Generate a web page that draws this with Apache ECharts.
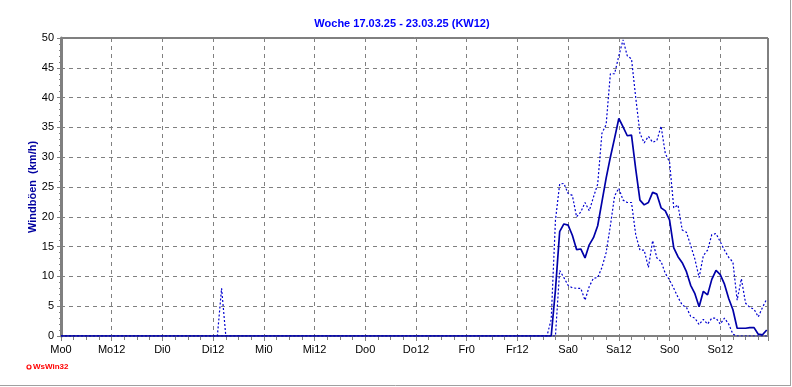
<!DOCTYPE html>
<html>
<head>
<meta charset="utf-8">
<script src="https://cdn.jsdelivr.net/npm/echarts@6/dist/echarts.min.js"></script>
<style>
  html, body { margin: 0; padding: 0; background: #fff; }
  #chart { width: 792px; height: 387px; }
</style>
</head>
<body>
<div id="chart"></div>
<script>
// Stunden seit Mo 0:00
var hours = [0, 37, 38, 39,
  115, 116, 117, 118, 119, 120, 121, 122, 123, 124, 125, 126, 127, 128, 129,
  130, 131, 132, 133, 134, 135, 136, 137, 138, 139, 140, 141, 142, 143, 144,
  145, 146, 147, 148, 149, 150, 151, 152, 153, 154, 155, 156, 157, 158, 159,
  160, 161, 162, 163, 164, 165, 166, 167];

// Windböen Mittel / Max / Min (km/h)
var boenMittel = [0, 0, 0, 0,
  0, 0, 7.7, 17.5, 18.8, 18.6, 16.9, 14.5, 14.6, 13.1, 15.3, 16.5, 18.5, 22.5, 26.5,
  30, 33.2, 36.5, 35.1, 33.6, 33.7, 28, 22.8, 22.0, 22.4, 24.1, 23.8, 21.5, 21.0, 19.5,
  14.8, 13.3, 12.3, 10.8, 8.5, 7.1, 4.9, 7.5, 6.9, 9.5, 11.0, 10.3, 8.7, 6.3, 4.4,
  1.3, 1.3, 1.3, 1.4, 1.4, 0.3, 0.2, 1.0];
var boenMax = [0, 0, 8, 0,
  0, 2.8, 19.4, 25.5, 25.6, 23.9, 23.6, 20.0, 20.8, 22.4, 21.0, 23.3, 25.5, 34, 35.5,
  44.0, 44.0, 47, 49.7, 47, 46.5, 40, 34, 32.4, 33.5, 32.5, 32.8, 35.2, 30.6, 29.2,
  21.5, 22.0, 17.8, 17.4, 15.2, 12.9, 9.8, 13.5, 14.4, 17.0, 17.2, 15.8, 14.4, 13.2, 12.4,
  6.0, 9.6, 5.5, 4.8, 4.5, 3.2, 4.8, 6.2];
var boenMin = [0, 0, 0, 0,
  0, 0, 0, 11, 9.8, 8.5, 8.1, 8.0, 8.0, 6.0, 8.3, 9.7, 9.8, 11.5, 14,
  18.5, 23.5, 24.8, 22.8, 22.4, 22.4, 17, 14.4, 14.4, 11.5, 16, 13.1, 12.5, 10.5, 9.4,
  8.0, 6.5, 5.2, 4.8, 3.3, 3.0, 1.9, 2.8, 2.0, 3.0, 3.0, 2.0, 3.0, 2.0, 0.3,
  0, 0, 0, 0, 0, 0, 0, 0];

var xLabels = ['Mo0', 'Mo12', 'Di0', 'Di12', 'Mi0', 'Mi12', 'Do0', 'Do12',
  'Fr0', 'Fr12', 'Sa0', 'Sa12', 'So0', 'So12'];

function pairs(vals) {
  return hours.map(function (h, i) { return [h, vals[i]]; });
}

var chart = echarts.init(document.getElementById('chart'));

var dotted = { color: '#0000d0', width: 1.2, type: [2, 2] };

var option = {
  animation: false,
  backgroundColor: '#ffffff',
  title: {
    text: 'Woche 17.03.25 - 23.03.25 (KW12)',
    left: 397,
    textAlign: 'center',
    top: 13,
    textStyle: { color: '#0000ff', fontSize: 11, fontWeight: 'bold', fontFamily: 'Liberation Sans' }
  },
  grid: {
    left: 61, top: 38, right: 24, bottom: 51,
    show: true, borderColor: '#000', borderWidth: 1
  },
  xAxis: {
    type: 'value',
    min: 0, max: 167.3, interval: 12,
    axisLine: { show: true, onZero: false, lineStyle: { color: '#808080', width: 2 } },
    axisTick: { show: true, length: 5, lineStyle: { color: '#808080' } },
    minorTick: { show: true, splitNumber: 4, length: 4, lineStyle: { color: '#808080' } },
    splitLine: { show: true, lineStyle: { color: '#808080', type: [4, 4], width: 1 } },
    axisLabel: {
      margin: 8, color: '#000', fontSize: 11, fontFamily: 'Liberation Sans',
      formatter: function (v) { return xLabels[Math.round(v / 12)] || ''; }
    }
  },
  yAxis: {
    type: 'value',
    min: 0, max: 50, interval: 5,
    name: 'Windböen  (km/h)',
    nameLocation: 'middle',
    nameGap: 23,
    nameMoveOverlap: false,
    nameTextStyle: { color: '#0000a0', fontSize: 11, fontWeight: 'bold', fontFamily: 'Liberation Sans' },
    axisLine: { show: true, lineStyle: { color: '#808080', width: 3 } },
    axisTick: { show: true, length: 4, lineStyle: { color: '#808080' } },
    minorTick: { show: true, splitNumber: 5, length: 2, lineStyle: { color: '#808080' } },
    splitLine: { show: true, lineStyle: { color: '#808080', type: [4, 4], width: 1 } },
    axisLabel: { margin: 7, color: '#000', fontSize: 11, fontFamily: 'Liberation Sans' }
  },
  series: [
    {
      name: 'Max', type: 'line', data: pairs(boenMax), showSymbol: false,
      lineStyle: dotted, z: 3
    },
    {
      name: 'Min', type: 'line', data: pairs(boenMin), showSymbol: false,
      lineStyle: dotted, z: 3
    },
    {
      name: 'Mittel', type: 'line', data: pairs(boenMittel), showSymbol: false,
      lineStyle: { color: '#0000a8', width: 1.7 }, z: 4
    }
  ],
  graphic: [
    { type: 'line', shape: { x1: 790.5, y1: 0, x2: 790.5, y2: 386 }, style: { stroke: '#a0a0a0', lineWidth: 1 } },
    { type: 'line', shape: { x1: 0, y1: 385.5, x2: 791, y2: 385.5 }, style: { stroke: '#a0a0a0', lineWidth: 1 } },
    { type: 'circle', shape: { cx: 29, cy: 367, r: 2 }, style: { fill: 'none', stroke: '#ff0000', lineWidth: 1.2 } },
    { type: 'text', left: 33, top: 363, style: { text: 'WsWin32', fill: '#ff0000', font: 'bold 8px "Liberation Sans"' } }
  ]
};

chart.setOption(option);
</script>
</body>
</html>
